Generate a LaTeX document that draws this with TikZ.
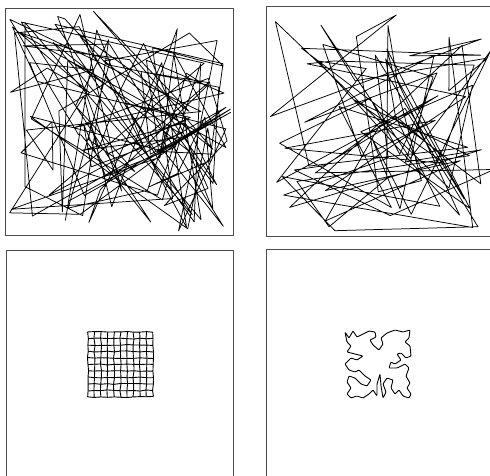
\documentclass[tikz,border=0pt]{standalone}
\begin{document}
\begin{tikzpicture}[x=1pt,y=-1pt,
  frame/.style={draw=black!70,line width=0.8pt},
  tour/.style={draw=black,line width=0.75pt,line join=round},
  meshline/.style={draw=black,line width=0.9pt,line join=round},
  curveline/.style={draw=black,line width=0.9pt,line join=round,rounded corners=0.8pt}]
\useasboundingbox (0,0) rectangle (490,475);
\clip (0,0) rectangle (490,475);
\fill[white] (0,0) rectangle (490,475);
% frames
\draw[frame] (5,8) rectangle (233,235);
\draw[frame] (266,6) rectangle (520,236);
\draw[frame] (6,250) rectangle (233,500);
\draw[frame] (266,249) rectangle (520,500);
% top-left tour
\pgfmathsetseed{4711}
\foreach \i in {0,...,135}{
  \pgfmathsetmacro\xx{9+222*rnd}
  \pgfmathsetmacro\yy{11+220*rnd}
  \coordinate (a\i) at (\xx,\yy);
}
\draw[tour] (a0) \foreach \i in {1,...,135}{ -- (a\i)} -- cycle;
% top-right tour
\foreach \i in {0,...,85}{
  \pgfmathsetmacro\xx{268+228*rnd}
  \pgfmathsetmacro\yy{9+222*rnd}
  \coordinate (b\i) at (\xx,\yy);
}
\draw[tour] (b0) \foreach \i in {1,...,85}{ -- (b\i)} -- cycle;
% bottom-left mesh
\foreach \i in {0,...,10}{\foreach \j in {0,...,10}{
  \pgfmathsetmacro\xx{88+6.5*\i+0.6*rand}
  \pgfmathsetmacro\yy{332+6.5*\j+0.6*rand}
  \coordinate (g\i-\j) at (\xx,\yy);
}}
\foreach \i in {0,...,10}{
  \draw[meshline] (g\i-0) \foreach \j in {1,...,10}{ -- (g\i-\j)};
}
\foreach \j in {0,...,10}{
  \draw[meshline] (g0-\j) \foreach \i in {1,...,10}{ -- (g\i-\j)};
}
% bottom-right closed curve
\draw[curveline,shift={(343,328)}] (2,4) -- (6,10) -- (10,3) -- (14,9) -- (20,6) -- (26,3) -- (32,4) -- (33,9) -- (27,12) -- (30,17) -- (36,22) -- (40,16) -- (38,10) -- (44,5) -- (52,2) -- (60,4) -- (67,2) -- (66,10) -- (62,14) -- (67,18) -- (68,28) -- (63,30) -- (58,25) -- (54,26) -- (58,32) -- (52,36) -- (48,34) -- (46,40) -- (54,40) -- (62,36) -- (66,40) -- (63,48) -- (67,55) -- (64,60) -- (68,66) -- (66,70) -- (60,68) -- (56,62) -- (52,66) -- (48,60) -- (50,52) -- (44,50) -- (40,56) -- (43,64) -- (40,70) -- (38,58) -- (37,46) -- (34,56) -- (34,68) -- (30,62) -- (26,66) -- (20,70) -- (14,68) -- (8,70) -- (4,66) -- (8,60) -- (4,54) -- (6,48) -- (12,50) -- (18,56) -- (24,58) -- (28,52) -- (22,48) -- (16,42) -- (12,44) -- (6,42) -- (2,36) -- (8,30) -- (14,32) -- (20,28) -- (12,26) -- (4,24) -- (8,18) -- (4,14) -- cycle;
\end{tikzpicture}
\end{document}
